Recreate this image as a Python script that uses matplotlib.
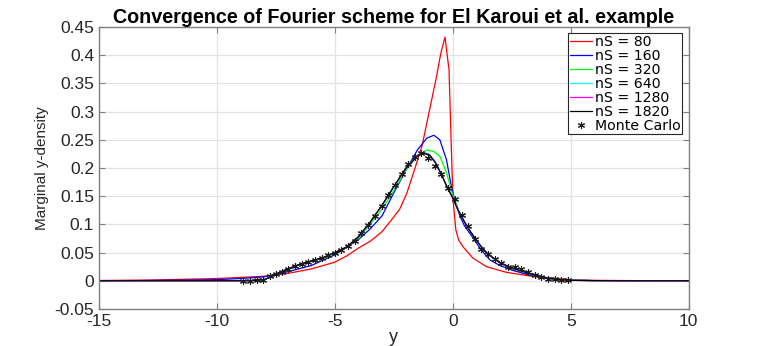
import matplotlib
matplotlib.use("Agg")
import matplotlib.pyplot as plt

# --------------------------------------------------------------------------
# Values
# --------------------------------------------------------------------------

# nS = 80 (red)
red_x = [-15, -13, -11, -10, -9, -8, -7, -6, -5, -4.5, -4, -3.5, -3, -2.6,
         -2.25, -1.95, -1.6, -1.3, -1.0, -0.7, -0.5, -0.33, -0.16, -0.06,
         0.01, 0.13, 0.25, 0.44, 0.86, 1.43, 2.27, 3.4, 4.1, 5, 6, 8, 10]
red_y = [0.0005, 0.0012, 0.003, 0.004, 0.006, 0.008, 0.013, 0.021, 0.033,
         0.044, 0.058, 0.07, 0.087, 0.108, 0.127, 0.155, 0.2, 0.24, 0.30,
         0.36, 0.405, 0.432, 0.374, 0.232, 0.144, 0.09, 0.072, 0.06, 0.04,
         0.025, 0.015, 0.0077, 0.005, 0.002, 0.0008, 0.0002, 0.0]

# nS = 160 (blue)
blue_x = [-15, -12, -10, -9, -8, -7, -6, -5, -4, -3.5, -3, -2.5, -2, -1.5,
          -1.1, -0.8, -0.55, -0.27, -0.06, 0.1, 0.3, 0.5, 0.86, 1.2, 1.57,
          2.0, 2.5, 3.0, 3.5, 4.0, 4.5, 5, 6, 8, 10]
blue_y = [0, 0.0008, 0.002, 0.004, 0.007, 0.016, 0.027, 0.046, 0.073, 0.092,
          0.115, 0.156, 0.195, 0.232, 0.253, 0.258, 0.25, 0.215, 0.167, 0.14,
          0.115, 0.097, 0.076, 0.055, 0.037, 0.027, 0.019, 0.013, 0.008,
          0.004, 0.002, 0.001, 0.0003, 0, 0]

# nS = 320 (green)
green_x = [-15, -10, -9, -8, -7.5, -7, -6.5, -6, -5.5, -5, -4.5, -4, -3.5,
           -3, -2.5, -2, -1.5, -1.1, -0.8, -0.55, -0.27, 0, 0.25, 0.5, 0.75,
           1.0, 1.5, 2.0, 2.5, 3.0, 3.5, 4.0, 4.5, 5, 6, 10]
green_y = [0, 0, 0, 0.002, 0.011, 0.02, 0.028, 0.034, 0.04, 0.049, 0.059,
           0.075, 0.1, 0.127, 0.16, 0.195, 0.222, 0.232, 0.229, 0.221, 0.192,
           0.152, 0.125, 0.104, 0.087, 0.071, 0.047, 0.032, 0.023, 0.016,
           0.01, 0.005, 0.002, 0.001, 0.0002, 0]

# nS = 640, 1280, 1820 share one grid of x values
fine_x = [-15, -10, -9, -8.5, -8, -7.75, -7.5, -7, -6.5, -6, -5.5, -5, -4.5,
          -4, -3.5, -3, -2.5, -2, -1.5, -1.25, -1.0, -0.75, -0.5, -0.25, 0,
          0.25, 0.5, 0.75, 1.0, 1.25, 1.5, 2.0, 2.5, 3.0, 3.5, 4.0, 4.5, 5,
          6, 7, 10]
cyan_y = [0, 0, 0, 0.0003, 0.002, 0.006, 0.012, 0.021, 0.029, 0.035, 0.041,
          0.050, 0.060, 0.078, 0.104, 0.133, 0.166, 0.199, 0.223, 0.228,
          0.225, 0.212, 0.191, 0.168, 0.147, 0.123, 0.104, 0.087, 0.072,
          0.058, 0.047, 0.032, 0.023, 0.016, 0.0105, 0.005, 0.002, 0.0008,
          0.0002, 0, 0]
magenta_y = [0, 0, 0, 0.0003, 0.002, 0.006, 0.012, 0.021, 0.029, 0.035,
             0.041, 0.050, 0.060, 0.078, 0.104, 0.134, 0.167, 0.199, 0.222,
             0.227, 0.224, 0.211, 0.19, 0.167, 0.146, 0.123, 0.104, 0.087,
             0.072, 0.058, 0.047, 0.032, 0.023, 0.016, 0.0105, 0.005, 0.002,
             0.0008, 0.0002, 0, 0]
black_y = [0, 0, 0, 0.0003, 0.002, 0.006, 0.012, 0.021, 0.029, 0.035, 0.041,
           0.050, 0.060, 0.078, 0.104, 0.134, 0.167, 0.199, 0.221, 0.226,
           0.223, 0.21, 0.19, 0.167, 0.147, 0.123, 0.104, 0.087, 0.072,
           0.058, 0.047, 0.032, 0.023, 0.016, 0.0105, 0.005, 0.002, 0.0008,
           0.0002, 0, 0]

# Monte Carlo samples
mc_x = [-8.89, -8.6, -8.32, -8.04, -7.75, -7.51, -7.26, -6.98, -6.69, -6.41,
        -6.13, -5.85, -5.56, -5.28, -5.0, -4.72, -4.44, -4.15, -3.87, -3.59,
        -3.31, -3.02, -2.74, -2.46, -2.17, -1.89, -1.6, -1.33, -1.05, -0.76,
        -0.48, -0.2, 0.08, 0.37, 0.65, 0.93, 1.21, 1.5, 1.78, 2.06, 2.34,
        2.63, 2.91, 3.19, 3.47, 3.76, 4.04, 4.32, 4.6, 4.89]
mc_y = [0, 0, 0.0005, 0.002, 0.008, 0.012, 0.016, 0.021, 0.027, 0.030,
        0.034, 0.037, 0.040, 0.045, 0.050, 0.055, 0.062, 0.071, 0.085, 0.099,
        0.114, 0.133, 0.152, 0.170, 0.19, 0.207, 0.22, 0.226, 0.217, 0.204,
        0.19, 0.164, 0.145, 0.117, 0.098, 0.074, 0.057, 0.047, 0.038, 0.031,
        0.025, 0.024, 0.021, 0.015, 0.011, 0.0065, 0.004, 0.003, 0.002,
        0.0005]

x_ticks = [-15, -10, -5, 0, 5, 10]
y_ticks = [-0.05, 0, 0.05, 0.1, 0.15, 0.2, 0.25, 0.3, 0.35, 0.4, 0.45]
y_tick_labels = ['-0.05', '0', '0.05', '0.1', '0.15', '0.2', '0.25', '0.3',
                 '0.35', '0.4', '0.45']

# --------------------------------------------------------------------------
# Figure
# --------------------------------------------------------------------------
plt.rcParams['font.family'] = ['Liberation Sans', 'DejaVu Sans']

fig = plt.figure(figsize=(7.61, 3.46), dpi=100)
ax = fig.add_axes([0.130, 0.107, 0.775, 0.815])

lw = 0.9
ax.plot(red_x, red_y, color='#ff0000', lw=lw, label='nS = 80')
ax.plot(blue_x, blue_y, color='#0000ff', lw=lw, label='nS = 160')
ax.plot(green_x, green_y, color='#00ff00', lw=lw, label='nS = 320')
ax.plot(fine_x, cyan_y, color='#00ffff', lw=lw, label='nS = 640')
ax.plot(fine_x, magenta_y, color='#ff00ff', lw=lw, label='nS = 1280')
ax.plot(fine_x, black_y, color='#000000', lw=lw, label='nS = 1820')
ax.plot(mc_x, mc_y, ls='none', marker=(6, 2, 0), ms=5, mew=0.8,
        color='#1a1a1a', label='Monte Carlo')

ax.set_xlim(-15, 10)
ax.set_ylim(-0.05, 0.45)
ax.set_xticks(x_ticks)
ax.set_xticklabels([str(t) for t in x_ticks])
ax.set_yticks(y_ticks)
ax.set_yticklabels(y_tick_labels)

ax.grid(True, color='#e3e3e3', lw=0.9)
ax.set_axisbelow(True)
ax.tick_params(direction='in', top=True, right=True, length=4,
               color='#808080', labelcolor='#262626', labelsize=12.5)
for s in ax.spines.values():
    s.set_color('#808080')
    s.set_linewidth(1.0)

ax.set_xlabel('y', fontsize=13, color='#262626', labelpad=0)
ax.set_ylabel('Marginal y-density', fontsize=11, color='#262626', labelpad=4)
ax.set_title('Convergence of Fourier scheme for El Karoui et al. example',
             fontsize=14.2, fontweight='bold', pad=3)

leg = ax.legend(loc='upper right', prop={'family': 'DejaVu Sans', 'size': 10.2},
                labelspacing=0.0, handlelength=1.6, handletextpad=0.2,
                borderpad=0.1, borderaxespad=0.45, fancybox=False,
                framealpha=1.0)
leg.get_frame().set_edgecolor('#262626')
leg.get_frame().set_linewidth(0.8)

plt.savefig('out.png', dpi=100)
